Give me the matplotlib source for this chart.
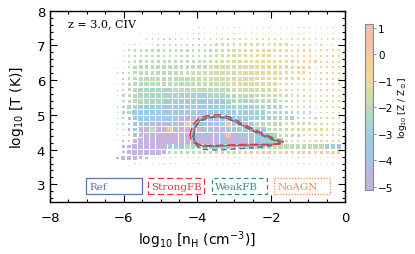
import numpy as np
import matplotlib
matplotlib.use('Agg')
import matplotlib.pyplot as plt
from matplotlib.colors import LinearSegmentedColormap, Normalize
from matplotlib.patches import Rectangle
from matplotlib.collections import PatchCollection
from matplotlib.cm import ScalarMappable

# bin centres (log nH, log T)
nh_bins = np.round(-6.17 + 0.158 * np.arange(39), 3)
t_rows = np.round(3.60 + 0.163 * np.arange(26), 3)[::-1]   # top row first

# square size per cell (0 = empty, 9 = full cell), rows top -> bottom
size_rows = [
    "0000000000 0000001111 1111111111 111111110",  # 7.68
    "0000000000 0000222222 2222222222 222222221",
    "0011111111 1111222222 2222222222 222222222",
    "0111122222 2222222233 3333333333 322222222",
    "0122222333 3333333444 4444444444 333333222",  # 7.02
    "0234444444 4444444555 5555555544 444433333",
    "1233444444 4444444555 5555555444 443333333",
    "1234555555 5555555666 6666665555 544443333",
    "1235666666 6666666777 7777766666 555533333",
    "2345666666 6666666777 7777666665 555333333",  # 6.21
    "2346777777 7777777777 7777666655 553333333",
    "2356777777 7777777777 7777666644 443333333",
    "2356888888 8888888877 7777666644 443333333",
    "2457888888 8888888887 7777666644 443333333",
    "2457888888 8888888888 7777666644 443333333",  # 5.39
    "2467888888 8888888888 8777766664 444333333",
    "2468888888 8888888888 8777776666 444433333",
    "1357888888 8888888888 8887777666 644443333",
    "2346788888 8888888888 8888666665 555544444",
    "2346788888 8888888888 8888886666 555544444",  # 4.58
    "2246799999 9999999999 9999999955 554444444",
    "2346999999 9999999999 9999999994 444444444",
    "0468999997 7777777777 7777777777 777777777",
    "0468888875 5555555555 5555555555 555555555",
    "4666542222 2222222222 2222222222 222222222",
    "0002222222 2222222222 2222222222 222222222",  # 3.60
]

# metallicity class per cell, rows top -> bottom
metal_rows = [
    "iiiiiiiiii iiiiiiiiii iiiiiiiiii iiiiiiiii",
    "gggggggggg gggghhhhhh hhhiiiiiii iiiiiiiii",
    "gggggggggg gggggghhhh hhiiiiiiii iiiiiiiii",
    "gggggggggg ggggggghhh hhiiiiiiii iiiijjjjj",
    "gggggggggg gggggggghh hhiiiiiiii iijjjjjjj",
    "gggggggggg gggggggghh hhiiiiiiii ijjjjjjjj",
    "gggggggggg ggggggghhh hhiiiiiiii ijjjjjjjj",
    "gggggggggg ggggggghhh hhiiiiiiii jjjjjjjjj",
    "gggggggggg gggggghhhh hhiiiiiiii ijjjjjjjj",
    "gggggggggg gghhhhhhhh hiiiiiiiii ijjjjjjjj",
    "gggggggggg ggggghhhhh hhhiiiiiii iijjjjjjj",
    "gggggggggg gggggggghh hhhhhiiiii iiijjjjjj",
    "ggggffffff gggggggggg hhhhhhhiii iiiijjjjj",
    "ggggffffff feeeeeffff fggggggghh hhhhiiiii",
    "gggggfffee eedddddddf fffffggggg ghhhhhhhh",
    "ffffdddddd ddddddddde eeeefffffg gggghhhhh",
    "fffddddddc ddddcddddd deeeeeffff fgggghhhh",
    "fedddddddd dabacccccd dddeeeefff ffgggghhh",
    "ggdddcabac abkacdacel cdadgggggh hhhhiiiii",
    "gfadaagaak aaabacdabd cedcedgggg hhhhiiiii",
    "gghaaaaaaa aaaaacabcl addcedefgg ggiiiiiii",
    "gakaaaaaaa aaaaaaaaca aaacceeffj jjjjjjjjj",
    "aaaaaaaaad dcgffffffd efdefefggg ggggggedc",
    "aaaaaaaaag gggggggjkk jkkkjkkjkk jkkkjkkjk",
    "aaaaaahhhh hhhhhhhjjj jjjjjjjjjj jjjjjjjjj",
    "hhhhhhhhhh hhhhhhhhhh hhhhhhhhhh hhhhhhhhh",
]
metal_code = {'a': -5.0, 'b': -4.5, 'c': -4.0, 'd': -3.5, 'e': -3.0, 'f': -2.5,
              'g': -2.0, 'h': -1.5, 'i': -1.0, 'j': -0.5, 'k': 0.0, 'l': 0.5, 'm': 1.0}

# 50% contours of the CIV-weighted gas, one per model
models = ['Ref', 'StrongFB', 'WeakFB', 'NoAGN']
model_colors = ['#5b72b8', '#e8343e', '#2f8f7e', '#f4874b']
model_dash = ['-', (0, (5, 2.5)), (0, (3.5, 2.5)), (0, (1, 1.3))]
cont_x = {
    'Ref': [-4.12, -4.10, -4.05, -3.95, -3.80, -3.60, -3.40, -3.20, -3.00, -2.80, -2.55, -2.30,
            -2.05, -1.85, -1.75, -1.85, -2.10, -2.50, -3.00, -3.50, -3.85, -4.02, -4.10, -4.12],
    'StrongFB': [-4.20, -4.17, -4.10, -3.98, -3.82, -3.60, -3.38, -3.15, -2.95, -2.75, -2.50, -2.25,
                 -2.00, -1.80, -1.65, -1.78, -2.05, -2.50, -3.00, -3.50, -3.90, -4.10, -4.18, -4.20],
    'WeakFB': [-4.10, -4.08, -4.02, -3.92, -3.78, -3.58, -3.38, -3.18, -2.98, -2.78, -2.55, -2.30,
               -2.05, -1.85, -1.78, -1.95, -2.30, -2.70, -3.10, -3.50, -3.85, -4.02, -4.08, -4.10],
    'NoAGN': [-4.11, -4.09, -4.04, -3.94, -3.80, -3.60, -3.40, -3.20, -3.00, -2.80, -2.55, -2.30,
              -2.05, -1.85, -1.77, -1.88, -2.15, -2.60, -3.05, -3.50, -3.85, -4.02, -4.09, -4.11],
}
cont_y = {
    'Ref': [4.40, 4.55, 4.70, 4.83, 4.91, 4.95, 4.95, 4.91, 4.82, 4.71, 4.58, 4.46,
            4.34, 4.25, 4.20, 4.16, 4.14, 4.13, 4.12, 4.10, 4.10, 4.18, 4.28, 4.40],
    'StrongFB': [4.42, 4.58, 4.74, 4.88, 4.96, 5.00, 5.00, 4.95, 4.85, 4.73, 4.60, 4.48,
                 4.36, 4.27, 4.21, 4.16, 4.15, 4.15, 4.14, 4.12, 4.12, 4.20, 4.30, 4.42],
    'WeakFB': [4.38, 4.55, 4.70, 4.82, 4.89, 4.93, 4.93, 4.89, 4.80, 4.69, 4.56, 4.44,
               4.32, 4.24, 4.19, 4.12, 4.07, 4.04, 4.01, 3.99, 4.01, 4.10, 4.22, 4.38],
    'NoAGN': [4.40, 4.56, 4.70, 4.83, 4.90, 4.94, 4.94, 4.90, 4.81, 4.70, 4.57, 4.45,
              4.33, 4.24, 4.20, 4.15, 4.12, 4.10, 4.08, 4.06, 4.06, 4.15, 4.27, 4.40],
}

cmap = LinearSegmentedColormap.from_list('zpastel', [
    (0.00, '#c9b2dc'), (0.08, '#bab6e0'), (0.16, '#a9c0e6'), (0.24, '#9fc8e4'),
    (0.32, '#9dd0dc'), (0.40, '#a8d6ca'), (0.48, '#b9dbbd'), (0.56, '#cdddab'),
    (0.64, '#e2dba4'), (0.72, '#f2d29d'), (0.80, '#f8c99c'), (0.90, '#f3c0a8'),
    (1.00, '#efbcbe')])
norm = Normalize(vmin=-5.12, vmax=1.15)

fig = plt.figure(figsize=(4.15, 2.55), dpi=100)
ax = fig.add_axes([0.1205, 0.205, 0.7108, 0.749])

dx, dy = 0.158, 0.163
patches, cvals = [], []
for r in range(len(t_rows)):
    srow = size_rows[r].replace(' ', '')
    crow = metal_rows[r].replace(' ', '')
    for c in range(len(nh_bins)):
        lev = int(srow[c])
        if lev == 0:
            continue
        f = min(lev * 0.106, 0.93)
        w, h = dx * f, dy * f
        patches.append(Rectangle((nh_bins[c] - w / 2, t_rows[r] - h / 2), w, h))
        cvals.append(metal_code[crow[c]])
pc = PatchCollection(patches, cmap=cmap, norm=norm, edgecolor='none')
pc.set_array(np.array(cvals))
ax.add_collection(pc)

for m in ['Ref', 'NoAGN', 'WeakFB', 'StrongFB']:
    i = models.index(m)
    ax.plot(cont_x[m], cont_y[m], color=model_colors[i], ls=model_dash[i], lw=1.1)

# model boxes along the bottom
box_x0 = [0.122, 0.333, 0.548, 0.759]
for i, m in enumerate(models):
    ax.add_patch(Rectangle((box_x0[i], 0.040), 0.189, 0.0825, transform=ax.transAxes,
                           facecolor='white', edgecolor=model_colors[i], ls=model_dash[i],
                           lw=0.9, zorder=5))
    ax.text(box_x0[i] + 0.011, 0.081, m, transform=ax.transAxes, color=model_colors[i],
            fontsize=7.5, family='DejaVu Serif', va='center', ha='left', zorder=6)

ax.text(0.061, 0.935, 'z = 3.0, CIV', transform=ax.transAxes, fontsize=8,
        family='DejaVu Serif', va='center', ha='left')

ax.set_xlim(-8, 0)
ax.set_ylim(2.5, 8)
ax.set_xticks([-8, -6, -4, -2, 0])
ax.set_yticks([3, 4, 5, 6, 7, 8])
ax.set_xticks(np.arange(-8, 0.01, 0.5), minor=True)
ax.set_yticks(np.arange(2.6, 8.01, 0.2), minor=True)
ax.tick_params(which='both', direction='in', top=True, right=True, width=0.8)
ax.tick_params(which='major', length=5, labelsize=9.5)
ax.tick_params(which='minor', length=2.5)
ax.tick_params(axis='x', pad=7)
for s in ax.spines.values():
    s.set_linewidth(1.0)
ax.set_xlabel(r'log$_{10}$ [n$_{\rm H}$ (cm$^{-3}$)]', fontsize=10, labelpad=3)
ax.set_ylabel(r'log$_{10}$ [T (K)]', fontsize=10, labelpad=8)

cax = fig.add_axes([0.88, 0.251, 0.0193, 0.651])
cb = fig.colorbar(ScalarMappable(norm=norm, cmap=cmap), cax=cax, ticks=[-5, -4, -3, -2, -1, 0, 1])
cb.outline.set_edgecolor('#888888')
cb.outline.set_linewidth(0.8)
cax.tick_params(length=2, width=0.6, color='#888888', labelsize=7.5, pad=1.5)
cb.set_label(r'log$_{10}$ [Z / Z$_\odot$]', fontsize=6.5, labelpad=2)

fig.savefig('out.png', dpi=100)
